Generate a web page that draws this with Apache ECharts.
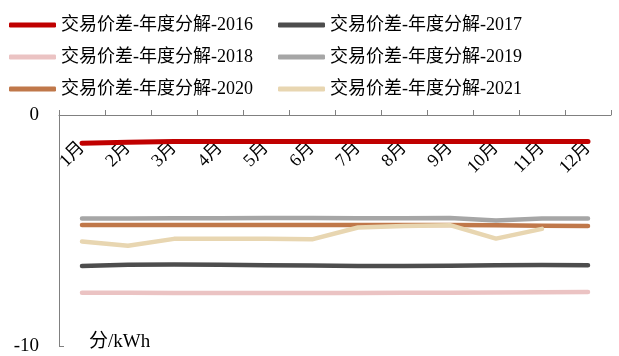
<!DOCTYPE html>
<html><head><meta charset="utf-8">
<script src="https://cdn.jsdelivr.net/npm/echarts@6/dist/echarts.min.js"></script>
<style>html,body{margin:0;padding:0;background:#fff}#c{width:619px;height:356px}</style>
</head><body><div id="c"></div>
<script>
const categories = ['1月','2月','3月','4月','5月','6月','7月','8月','9月','10月','11月','12月'];
const seriesNames = ['交易价差-年度分解-2016','交易价差-年度分解-2017','交易价差-年度分解-2018','交易价差-年度分解-2019','交易价差-年度分解-2020','交易价差-年度分解-2021'];
const v2016 = [-1.22,-1.18,-1.15,-1.14,-1.14,-1.14,-1.14,-1.14,-1.14,-1.15,-1.15,-1.15];
const v2017 = [-6.52,-6.47,-6.46,-6.47,-6.49,-6.5,-6.52,-6.52,-6.51,-6.49,-6.48,-6.49];
const v2018 = [-7.68,-7.68,-7.69,-7.69,-7.69,-7.69,-7.69,-7.68,-7.68,-7.67,-7.66,-7.65];
const v2019 = [-4.47,-4.47,-4.46,-4.46,-4.45,-4.45,-4.46,-4.46,-4.45,-4.56,-4.47,-4.47];
const v2020 = [-4.75,-4.75,-4.75,-4.75,-4.75,-4.75,-4.75,-4.75,-4.75,-4.76,-4.78,-4.79];
const v2021 = [-5.46,-5.65,-5.35,-5.35,-5.35,-5.37,-4.86,-4.79,-4.76,-5.34,-4.92,null];
const yTicks = [0,-10];
const colors = ['#C00000','#4D4D4D','#EBC3C3','#A6A6A6','#C0784A','#E8D6B1'];
const widths = [5,4.5,4.5,4.5,4.5,4.5];
const allValues = [v2016,v2017,v2018,v2019,v2020,v2021];

const font = '"Liberation Serif","Noto Sans CJK SC",serif';
const chart = echarts.init(document.getElementById('c'), null, {renderer:'canvas'});
const legendCommon = {
  orient:'vertical', itemWidth:47, itemHeight:5, itemGap:14, icon:'roundRect',
  textStyle:{fontFamily:font, fontSize:18, color:'#000', padding:[0,0,0,0]},
  selectedMode:false
};
chart.setOption({
  animation:false,
  color: colors,
  legend:[
    Object.assign({left:4, top:11, data:[seriesNames[0],seriesNames[2],seriesNames[4]]}, legendCommon),
    Object.assign({left:273, top:11, data:[seriesNames[1],seriesNames[3],seriesNames[5]]}, legendCommon)
  ],
  title:{text:'分/kWh', left:84, top:328, textStyle:{fontFamily:font, fontSize:19, fontWeight:'normal', color:'#000'}},
  grid:{left:59, right:8, top:115, bottom:8},
  xAxis:{
    type:'category', data:categories, position:'top', boundaryGap:true,
    axisLine:{lineStyle:{color:'#808080', width:1}},
    axisTick:{show:true, length:5, inside:false, lineStyle:{color:'#808080'}},
    axisLabel:{inside:true, rotate:45, margin:30, color:'#000', fontFamily:font, fontSize:18, interval:0}
  },
  yAxis:{
    type:'value', min:-10, max:0, interval:10,
    axisLine:{show:true, lineStyle:{color:'#808080'}},
    axisTick:{show:true, inside:true, length:5, lineStyle:{color:'#808080'}},
    splitLine:{show:false},
    axisLabel:{color:'#000', fontFamily:font, fontSize:19, margin:20,
      formatter:function(v){return yTicks.indexOf(v)>=0 ? String(v) : '';}}
  },
  series: seriesNames.map((n,i)=>({
    name:n, type:'line', data:allValues[i], symbol:'none', smooth:false,
    lineStyle:{width:widths[i], color:colors[i], cap:'round', join:'round'},
    itemStyle:{color:colors[i]}
  }))
});
</script></body></html>
